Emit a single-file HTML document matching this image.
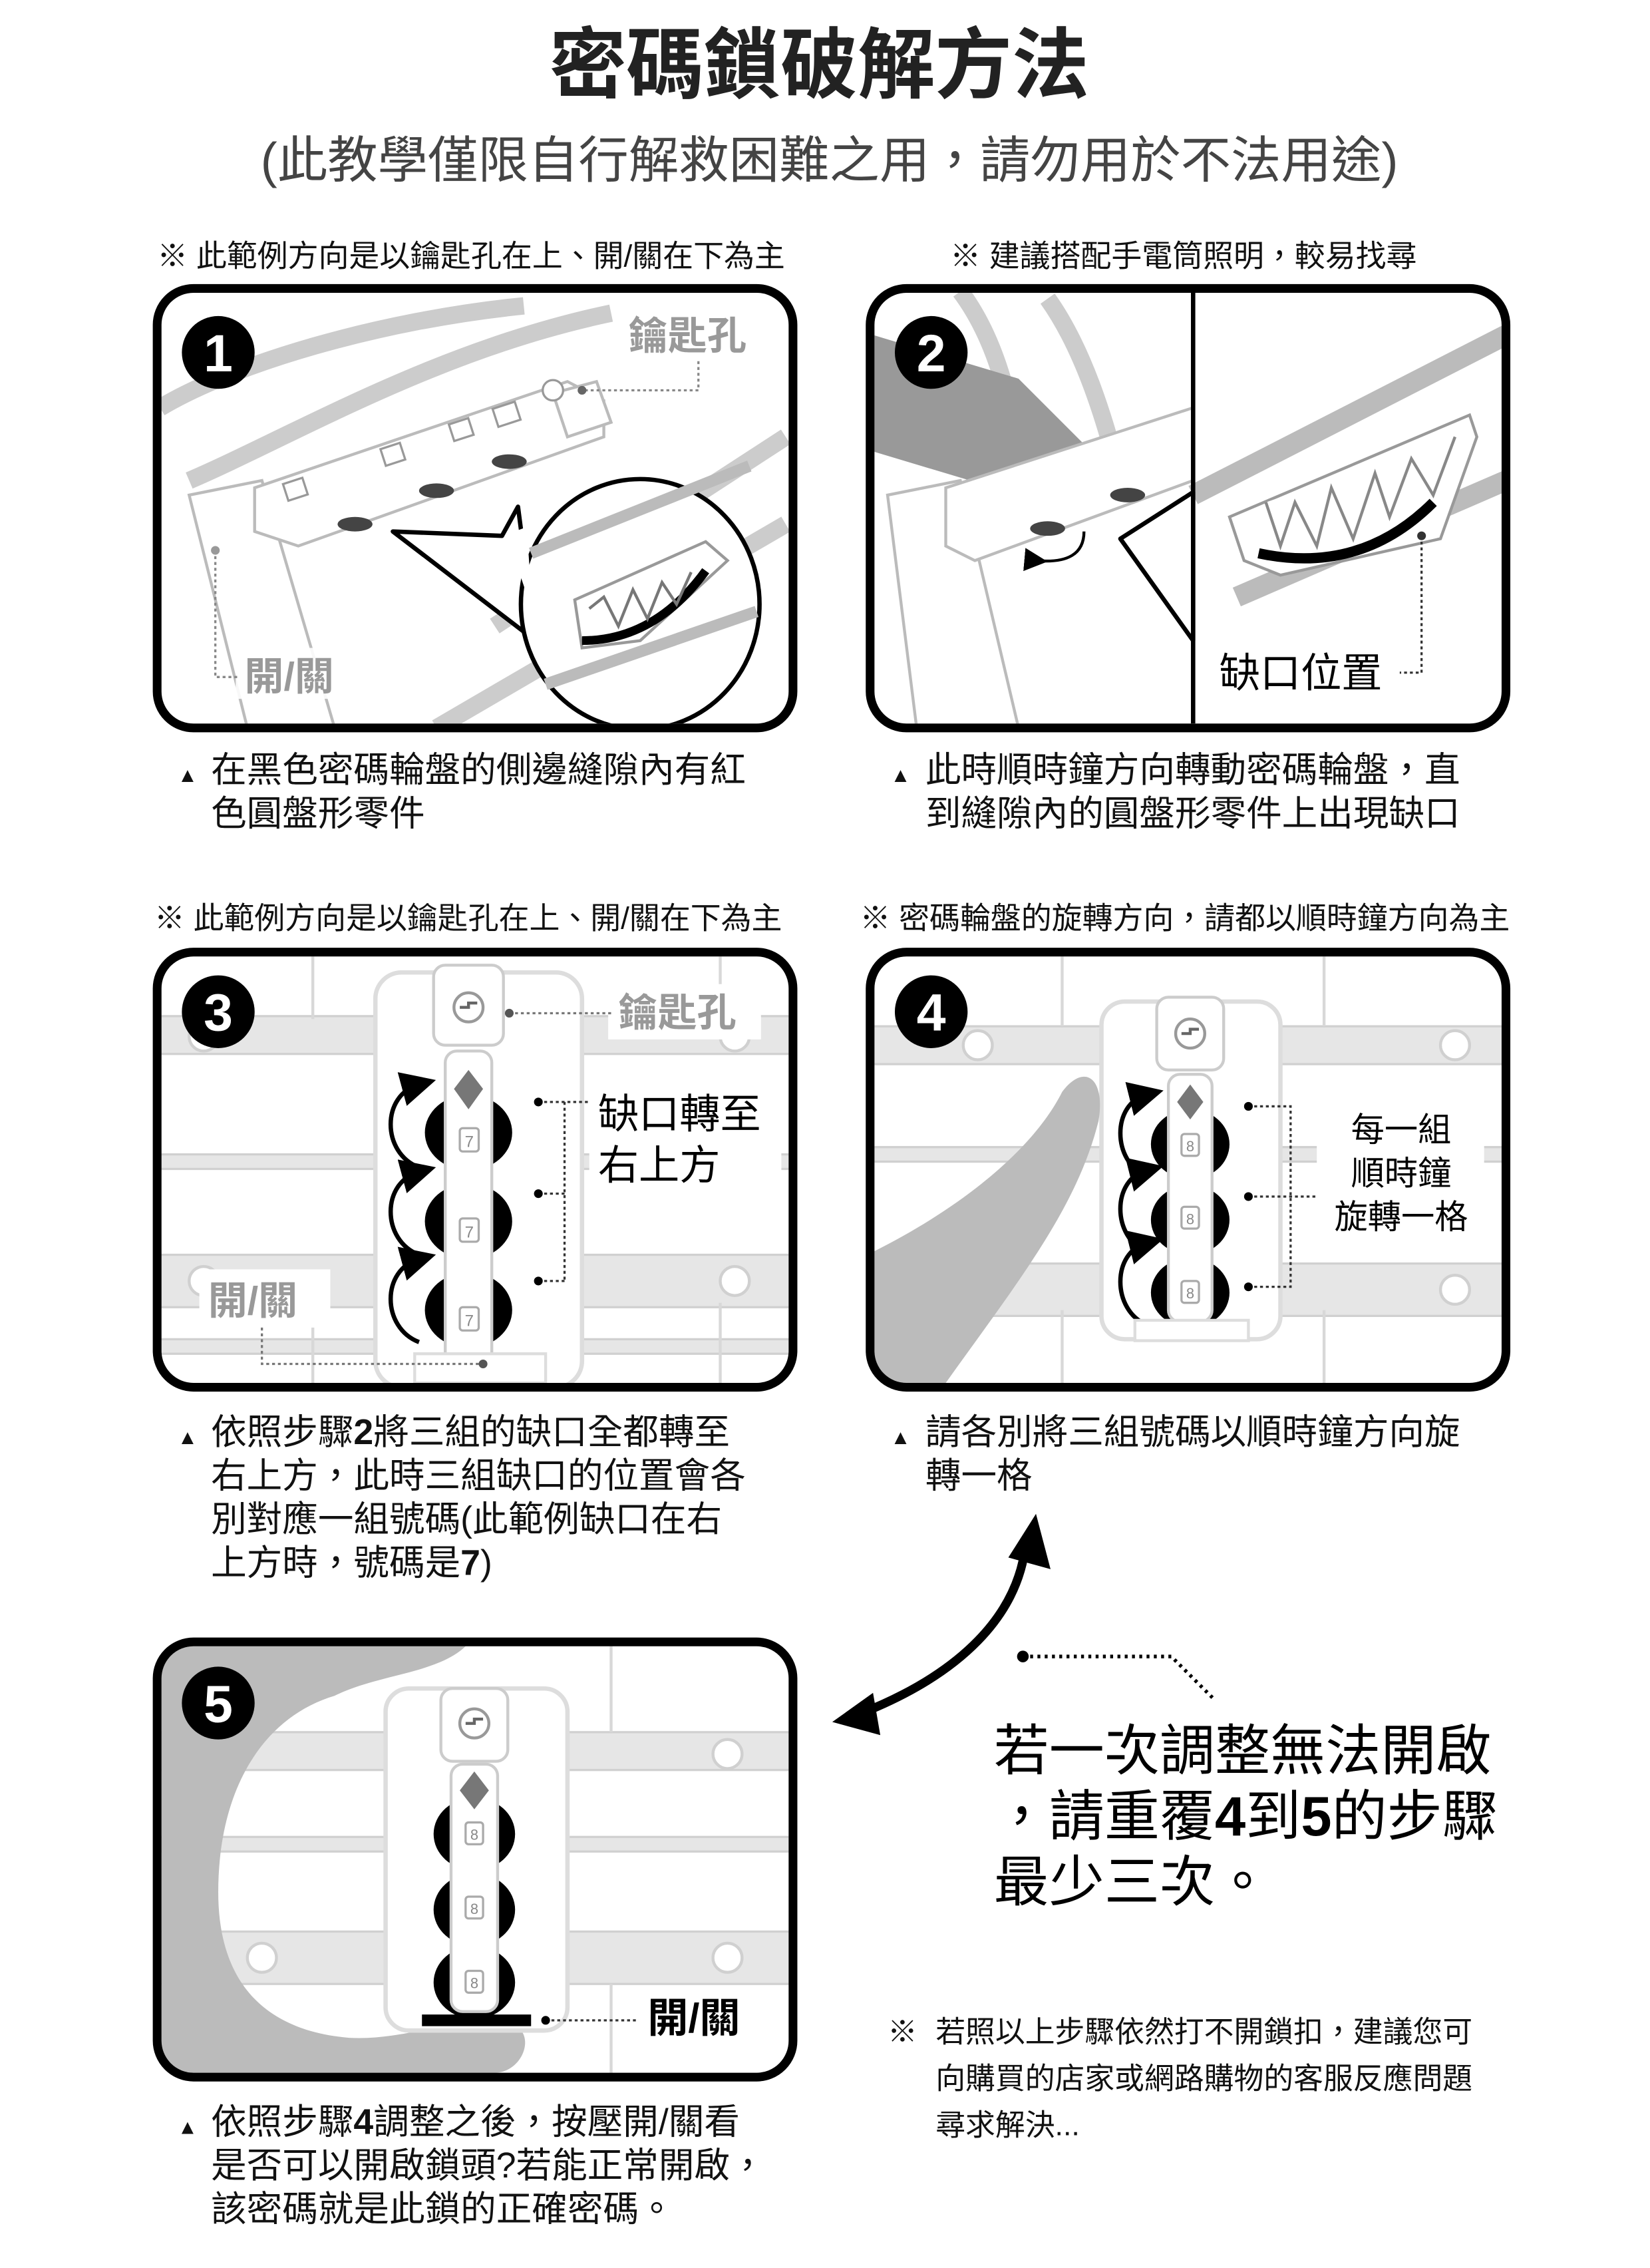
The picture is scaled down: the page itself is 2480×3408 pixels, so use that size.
<!DOCTYPE html>
<html><head><meta charset="utf-8">
<style>
html,body{margin:0;padding:0;background:#fff;}
svg{display:block;}
text{font-family:"Liberation Sans","Noto Sans CJK TC",sans-serif;}
</style></head>
<body>
<svg width="2480" height="3408" viewBox="0 0 1134 1558" xmlns="http://www.w3.org/2000/svg">
<defs>
  <clipPath id="c1"><rect x="111" y="201" width="431" height="296" rx="22"/></clipPath>
  <clipPath id="c2"><rect x="601" y="201" width="431" height="296" rx="22"/></clipPath>
  <clipPath id="c3"><rect x="111" y="657" width="431" height="293" rx="22"/></clipPath>
  <clipPath id="c4"><rect x="601" y="657" width="431" height="293" rx="22"/></clipPath>
  <clipPath id="c5"><rect x="111" y="1131" width="431" height="293" rx="22"/></clipPath>
  <marker id="ah" markerWidth="8" markerHeight="8" refX="4" refY="4" orient="auto"><path d="M0,0 L8,4 L0,8 Z" fill="#000"/></marker>
</defs>

<text x="563" y="63" font-size="53" font-weight="bold" text-anchor="middle" fill="#222">密碼鎖破解方法</text>
<text x="570" y="122" font-size="34.5" text-anchor="middle" fill="#444">(此教學僅限自行解救困難之用，請勿用於不法用途)</text>

<text x="108" y="183" font-size="21" fill="#111">※  此範例方向是以鑰匙孔在上、開/關在下為主</text>
<text x="653" y="183" font-size="21" fill="#111">※  建議搭配手電筒照明，較易找尋</text>

<!-- Panel 1 -->
<g clip-path="url(#c1)">
  <g stroke="#ccc" stroke-width="12" fill="none">
    <path d="M110,280 C160,250 260,220 360,210"/>
    <path d="M130,330 C200,300 300,240 420,215"/>
    <path d="M300,500 L540,360"/>
    <path d="M340,430 L540,300"/>
  </g>
  <g stroke="#bbb" stroke-width="2" fill="#fff">
    <path d="M130,340 L180,330 L230,500 L170,500 Z"/>
    <path d="M175,335 L390,262 L415,275 L415,300 L205,375 L175,365 Z"/>
    <path d="M380,270 L410,262 L420,290 L390,300 Z"/>
  </g>
  <g stroke="#999" stroke-width="1.5" fill="#fff">
    <rect x="196" y="330" width="14" height="12" transform="rotate(-18 203 336)"/>
    <rect x="263" y="306" width="14" height="12" transform="rotate(-18 270 312)"/>
    <rect x="310" y="289" width="14" height="12" transform="rotate(-18 317 295)"/>
    <rect x="340" y="278" width="16" height="13" transform="rotate(-18 348 284)"/>
  </g>
  <g fill="#444"><ellipse cx="244" cy="360" rx="12" ry="5"/><ellipse cx="300" cy="337" rx="12" ry="5"/><ellipse cx="350" cy="317" rx="12" ry="5"/></g>
  <circle cx="380" cy="268" r="7" fill="#fff" stroke="#999" stroke-width="1.5"/>
  <path d="M270,365 L345,368 L356,348 L368,440 Z" fill="#fff" stroke="#000" stroke-width="3" stroke-linejoin="round"/>
  <ellipse cx="440" cy="415" rx="82" ry="86" fill="#fff" stroke="#000" stroke-width="3"/>
  <path d="M348,367 L362,362 L366,420 Z" fill="#fff"/>
  <g stroke="#bbb" stroke-width="8" fill="none"><path d="M365,380 L515,320"/><path d="M375,470 L520,420"/></g>
  <path d="M395,412 L485,372 L500,385 L440,440 L400,445 Z" fill="#fff" stroke="#999" stroke-width="2"/>
  <path d="M400,440 Q450,440 485,392" stroke="#000" stroke-width="6" fill="none"/>
  <path d="M405,418 L415,410 L425,430 L435,405 L445,425 L455,400 L465,415 L475,393" stroke="#777" stroke-width="2" fill="none"/>
  <circle cx="150" cy="242" r="25" fill="#000"/>
  <text x="150" y="255" font-size="36" font-weight="bold" text-anchor="middle" fill="#fff">1</text>
  <rect x="425" y="210" width="100" height="35" fill="#fff"/>
  <text x="432" y="240" font-size="27" font-weight="bold" fill="#999">鑰匙孔</text>
  <path d="M480,248 L480,268 L400,268" stroke="#888" stroke-width="1.5" stroke-dasharray="2,2" fill="none"/>
  <circle cx="400" cy="268" r="3" fill="#666"/>
  <rect x="162" y="445" width="80" height="35" fill="#fff" opacity="0.9"/>
  <text x="168" y="474" font-size="27" font-weight="bold" fill="#999">開/關</text>
  <path d="M148,378 L148,465 L165,465" stroke="#888" stroke-width="1.5" stroke-dasharray="2,2" fill="none"/>
  <circle cx="148" cy="378" r="3" fill="#999"/>
</g>
<rect x="108" y="198" width="437" height="302" rx="25" fill="none" stroke="#000" stroke-width="6"/>

<!-- Panel 2 -->
<g clip-path="url(#c2)">
  <g stroke="#ccc" stroke-width="12" fill="none">
    <path d="M660,200 C690,240 700,300 700,330"/>
    <path d="M720,205 C745,240 760,290 770,330"/>
  </g>
  <path d="M600,230 L700,260 L760,320 L700,340 L600,310 Z" fill="#999"/>
  <g stroke="#bbb" stroke-width="2" fill="#fff">
    <path d="M610,340 L660,330 L700,500 L630,500 Z"/>
    <path d="M650,335 L820,280 L820,330 L670,385 L650,375 Z"/>
  </g>
  <g fill="#444"><ellipse cx="720" cy="363" rx="12" ry="5"/><ellipse cx="775" cy="340" rx="12" ry="5"/></g>
  <path d="M712,385 Q745,388 745,365" stroke="#000" stroke-width="2" fill="none" marker-start="url(#ah)"/>
  <rect x="820" y="201" width="215" height="296" fill="#fff"/>
  <g stroke="#bbb" stroke-width="14" fill="none"><path d="M820,340 L1035,230"/><path d="M850,410 L1035,330"/></g>
  <path d="M770,370 L820,338 L820,440 Z" fill="#fff" stroke="#000" stroke-width="3" stroke-linejoin="round"/>
  <path d="M845,355 L1010,285 L1015,300 L990,370 L880,395 L855,385 Z" fill="#fff" stroke="#999" stroke-width="2"/>
  <path d="M865,380 Q935,395 985,345" stroke="#000" stroke-width="7" fill="none"/>
  <path d="M870,345 L880,375 L890,345 L905,375 L915,335 L930,370 L945,325 L955,355 L970,315 L985,340 L1000,300" stroke="#888" stroke-width="2" fill="#fff"/>
  <line x1="820" y1="201" x2="820" y2="497" stroke="#000" stroke-width="3"/>
  <circle cx="640" cy="242" r="25" fill="#000"/>
  <text x="640" y="255" font-size="36" font-weight="bold" text-anchor="middle" fill="#fff">2</text>
  <text x="838" y="472" font-size="28" fill="#000">缺口位置</text>
  <path d="M977,368 L977,462 L962,462" stroke="#333" stroke-width="1.5" stroke-dasharray="2,2" fill="none"/>
  <circle cx="977" cy="368" r="3" fill="#333"/>
</g>
<rect x="598" y="198" width="437" height="302" rx="25" fill="none" stroke="#000" stroke-width="6"/>

<g font-size="24.5" fill="#111">
  <text x="122" y="537" font-size="14">▲</text>
  <text x="145" y="537">在黑色密碼輪盤的側邊縫隙內有紅</text>
  <text x="145" y="567">色圓盤形零件</text>
  <text x="612" y="537" font-size="14">▲</text>
  <text x="636" y="537">此時順時鐘方向轉動密碼輪盤，直</text>
  <text x="636" y="567">到縫隙內的圓盤形零件上出現缺口</text>
</g>

<text x="106" y="638" font-size="21" fill="#111">※  此範例方向是以鑰匙孔在上、開/關在下為主</text>
<text x="591" y="638" font-size="21" fill="#111">※  密碼輪盤的旋轉方向，請都以順時鐘方向為主</text>

<!-- Panel 3 -->
<g clip-path="url(#c3)">
  <g fill="#e6e6e6" stroke="#d0d0d0" stroke-width="1.5">
    <rect x="100" y="698" width="460" height="26"/>
    <rect x="100" y="793" width="460" height="10"/>
    <rect x="100" y="862" width="460" height="36"/>
    <rect x="100" y="920" width="460" height="10"/>
  </g>
  <g stroke="#d8d8d8" stroke-width="2" fill="none">
    <line x1="215" y1="657" x2="215" y2="700"/><line x1="495" y1="657" x2="495" y2="700"/>
    <line x1="215" y1="895" x2="215" y2="950"/><line x1="495" y1="895" x2="495" y2="950"/>
  </g>
  <g fill="#fff" stroke="#d0d0d0" stroke-width="2">
    <circle cx="140" cy="712" r="10"/><circle cx="505" cy="712" r="10"/><circle cx="140" cy="880" r="10"/><circle cx="505" cy="880" r="10"/>
  </g>
  <rect x="258" y="668" width="142" height="285" rx="18" fill="#fff" stroke="#ddd" stroke-width="3"/>
  <rect x="298" y="663" width="48" height="55" rx="8" fill="#fff" stroke="#ccc" stroke-width="2"/>
  <circle cx="322" cy="692" r="10" fill="#fff" stroke="#999" stroke-width="2"/>
  <path d="M316,692 h6 v-3 h6" stroke="#666" stroke-width="2" fill="none"/>
  <g fill="#000">
    <ellipse cx="322" cy="778" rx="30" ry="26"/>
    <ellipse cx="322" cy="839" rx="30" ry="26"/>
    <ellipse cx="322" cy="900" rx="30" ry="26"/>
  </g>
  <rect x="306" y="722" width="32" height="215" rx="8" fill="#fff" stroke="#ccc" stroke-width="2"/>
  <path d="M322,735 L332,748 L322,762 L312,748 Z" fill="#777"/>
  <g stroke="#aaa" fill="#fff" stroke-width="1.5"><rect x="316" y="775" width="13" height="16" rx="2"/><rect x="316" y="837" width="13" height="16" rx="2"/><rect x="316" y="898" width="13" height="16" rx="2"/></g>
  <g font-size="11" fill="#888" text-anchor="middle"><text x="322.5" y="788">7</text><text x="322.5" y="850">7</text><text x="322.5" y="911">7</text></g>
  <g stroke="#000" stroke-width="3" fill="none">
    <path d="M288,802 C262,792 262,752 288,745" marker-end="url(#ah)"/>
    <path d="M288,862 C262,852 262,812 288,805" marker-end="url(#ah)"/>
    <path d="M288,922 C262,912 262,872 288,865" marker-end="url(#ah)"/>
  </g>
  <rect x="285" y="930" width="90" height="20" fill="#fff" stroke="#ddd" stroke-width="2"/>
  <rect x="418" y="676" width="105" height="38" fill="#fff"/>
  <text x="425" y="705" font-size="27" font-weight="bold" fill="#999">鑰匙孔</text>
  <path d="M350,696 L420,696" stroke="#777" stroke-width="1.5" stroke-dasharray="2,2"/><circle cx="350" cy="696" r="3" fill="#555"/>
  <rect x="405" y="745" width="132" height="75" fill="#fff"/>
  <text x="411" y="775" font-size="28" fill="#000">缺口轉至</text>
  <text x="411" y="810" font-size="28" fill="#000">右上方</text>
  <path d="M370,757 L404,757 M388,757 L388,880 M370,820 L388,820 M370,880 L388,880" stroke="#333" stroke-width="1.5" stroke-dasharray="2,2" fill="none"/>
  <circle cx="370" cy="757" r="3"/><circle cx="370" cy="820" r="3"/><circle cx="370" cy="880" r="3"/>
  <rect x="137" y="872" width="90" height="40" fill="#fff"/>
  <text x="143" y="903" font-size="27" font-weight="bold" fill="#999">開/關</text>
  <path d="M180,912 L180,937 L332,937" stroke="#777" stroke-width="1.5" stroke-dasharray="2,2" fill="none"/><circle cx="332" cy="937" r="3" fill="#555"/>
  <circle cx="150" cy="695" r="25" fill="#000"/>
  <text x="150" y="708" font-size="36" font-weight="bold" text-anchor="middle" fill="#fff">3</text>
</g>
<rect x="108" y="654" width="437" height="299" rx="25" fill="none" stroke="#000" stroke-width="6"/>

<!-- Panel 4 -->
<g clip-path="url(#c4)">
  <g fill="#e6e6e6" stroke="#d0d0d0" stroke-width="1.5">
    <rect x="590" y="705" width="460" height="26"/>
    <rect x="590" y="788" width="460" height="10"/>
    <rect x="590" y="868" width="460" height="36"/>
  </g>
  <g fill="#fff" stroke="#d0d0d0" stroke-width="2">
    <circle cx="672" cy="718" r="10"/><circle cx="1000" cy="718" r="10"/><circle cx="1000" cy="886" r="10"/>
  </g>
  <g stroke="#d8d8d8" stroke-width="2" fill="none"><line x1="730" y1="657" x2="730" y2="705"/><line x1="910" y1="657" x2="910" y2="705"/><line x1="730" y1="900" x2="730" y2="950"/><line x1="910" y1="900" x2="910" y2="950"/></g>
  <rect x="757" y="688" width="123" height="232" rx="16" fill="#fff" stroke="#ddd" stroke-width="3"/>
  <rect x="795" y="685" width="46" height="50" rx="8" fill="#fff" stroke="#ccc" stroke-width="2"/>
  <circle cx="818" cy="710" r="10" fill="#fff" stroke="#999" stroke-width="2"/>
  <path d="M812,710 h6 v-3 h6" stroke="#666" stroke-width="2" fill="none"/>
  <path d="M600,950 L600,860 C660,830 710,790 730,750 C745,730 760,740 755,770 C740,830 700,880 650,950 Z" fill="#bbb"/>
  <g fill="#000">
    <ellipse cx="818" cy="786" rx="27" ry="24"/>
    <ellipse cx="818" cy="838" rx="27" ry="24"/>
    <ellipse cx="818" cy="888" rx="27" ry="24"/>
  </g>
  <rect x="803" y="738" width="30" height="170" rx="8" fill="#fff" stroke="#ccc" stroke-width="2"/>
  <path d="M818,745 L827,757 L818,769 L809,757 Z" fill="#777"/>
  <g stroke="#aaa" fill="#fff" stroke-width="1.5"><rect x="812" y="779" width="12" height="15" rx="2"/><rect x="812" y="829" width="12" height="15" rx="2"/><rect x="812" y="880" width="12" height="15" rx="2"/></g>
  <g font-size="10" fill="#888" text-anchor="middle"><text x="818" y="791">8</text><text x="818" y="841">8</text><text x="818" y="892">8</text></g>
  <g stroke="#000" stroke-width="3" fill="none">
    <path d="M788,808 C764,798 764,758 788,752" marker-end="url(#ah)"/>
    <path d="M788,860 C764,850 764,810 788,804" marker-end="url(#ah)"/>
    <path d="M788,910 C764,900 764,860 788,854" marker-end="url(#ah)"/>
  </g>
  <rect x="780" y="907" width="78" height="14" fill="#fff" stroke="#ddd" stroke-width="2"/>
  <rect x="905" y="755" width="115" height="100" fill="#fff"/>
  <g font-size="23" fill="#000" text-anchor="middle"><text x="963" y="784">每一組</text><text x="963" y="814">順時鐘</text><text x="963" y="844">旋轉一格</text></g>
  <path d="M858,760 L887,760 L887,884 L858,884 M858,822 L905,822" stroke="#333" stroke-width="1.5" stroke-dasharray="2,2" fill="none"/>
  <circle cx="858" cy="760" r="3"/><circle cx="858" cy="822" r="3"/><circle cx="858" cy="884" r="3"/>
  <circle cx="640" cy="695" r="25" fill="#000"/>
  <text x="640" y="708" font-size="36" font-weight="bold" text-anchor="middle" fill="#fff">4</text>
</g>
<rect x="598" y="654" width="437" height="299" rx="25" fill="none" stroke="#000" stroke-width="6"/>

<g font-size="24.5" fill="#111">
  <text x="122" y="992" font-size="14">▲</text>
  <text x="145" y="992">依照步驟<tspan font-weight="bold">2</tspan>將三組的缺口全都轉至</text>
  <text x="145" y="1022">右上方，此時三組缺口的位置會各</text>
  <text x="145" y="1052">別對應一組號碼(此範例缺口在右</text>
  <text x="145" y="1082">上方時，號碼是<tspan font-weight="bold">7</tspan>)</text>
  <text x="612" y="992" font-size="14">▲</text>
  <text x="636" y="992">請各別將三組號碼以順時鐘方向旋</text>
  <text x="636" y="1022">轉一格</text>
</g>

<path d="M705,1060 C700,1110 660,1150 592,1177" stroke="#000" stroke-width="6" fill="none"/>
<path d="M712,1040 L722,1078 L693,1070 Z" fill="#000"/>
<path d="M572,1183 L600,1163 L605,1192 Z" fill="#000"/>
<path d="M703,1138 L805,1138 L835,1168" stroke="#000" stroke-width="2.5" stroke-dasharray="2,3" fill="none"/>
<circle cx="703" cy="1138" r="4" fill="#000"/>

<g font-size="38" fill="#000">
  <text x="683" y="1216">若一次調整無法開啟</text>
  <text x="683" y="1261">，請重覆<tspan font-weight="bold">4</tspan>到<tspan font-weight="bold">5</tspan>的步驟</text>
  <text x="683" y="1306">最少三次。</text>
</g>

<!-- Panel 5 -->
<g clip-path="url(#c5)">
  <g fill="#e6e6e6" stroke="#d0d0d0" stroke-width="1.5">
    <rect x="100" y="1190" width="460" height="26"/>
    <rect x="100" y="1262" width="460" height="10"/>
    <rect x="100" y="1327" width="460" height="36"/>
  </g>
  <g fill="#fff" stroke="#d0d0d0" stroke-width="2"><circle cx="180" cy="1345" r="10"/><circle cx="500" cy="1345" r="10"/><circle cx="500" cy="1205" r="10"/></g>
  <g stroke="#d8d8d8" stroke-width="2" fill="none"><line x1="420" y1="1131" x2="420" y2="1190"/><line x1="420" y1="1363" x2="420" y2="1424"/></g>
  <path d="M111,1131 L320,1131 C300,1150 260,1150 230,1165 C180,1180 150,1230 150,1300 C150,1360 180,1395 240,1400 C280,1402 310,1385 350,1390 C370,1395 360,1424 340,1424 L111,1424 Z" fill="#bbb"/>
  <rect x="265" y="1160" width="125" height="235" rx="16" fill="#fff" stroke="#ddd" stroke-width="3"/>
  <rect x="303" y="1160" width="46" height="50" rx="8" fill="#fff" stroke="#ccc" stroke-width="2"/>
  <circle cx="326" cy="1184" r="10" fill="#fff" stroke="#999" stroke-width="2"/>
  <path d="M320,1184 h6 v-3 h6" stroke="#666" stroke-width="2" fill="none"/>
  <g fill="#000">
    <ellipse cx="326" cy="1260" rx="28" ry="25"/>
    <ellipse cx="326" cy="1312" rx="28" ry="25"/>
    <ellipse cx="326" cy="1362" rx="28" ry="25"/>
  </g>
  <rect x="310" y="1212" width="32" height="170" rx="8" fill="#fff" stroke="#ccc" stroke-width="2"/>
  <path d="M326,1217 L336,1230 L326,1243 L316,1230 Z" fill="#777"/>
  <g stroke="#aaa" fill="#fff" stroke-width="1.5"><rect x="320" y="1252" width="12" height="15" rx="2"/><rect x="320" y="1303" width="12" height="15" rx="2"/><rect x="320" y="1354" width="12" height="15" rx="2"/></g>
  <g font-size="10" fill="#888" text-anchor="middle"><text x="326" y="1264">8</text><text x="326" y="1315">8</text><text x="326" y="1366">8</text></g>
  <rect x="290" y="1384" width="75" height="8" fill="#000"/>
  <path d="M375,1388 L440,1388" stroke="#333" stroke-width="1.5" stroke-dasharray="2,2"/><circle cx="375" cy="1388" r="3"/>
  <rect x="438" y="1365" width="90" height="40" fill="#fff"/>
  <text x="445" y="1396" font-size="28" font-weight="bold" fill="#000">開/關</text>
  <circle cx="150" cy="1170" r="25" fill="#000"/>
  <text x="150" y="1183" font-size="36" font-weight="bold" text-anchor="middle" fill="#fff">5</text>
</g>
<rect x="108" y="1128" width="437" height="299" rx="25" fill="none" stroke="#000" stroke-width="6"/>

<g font-size="24.5" fill="#111">
  <text x="122" y="1466" font-size="14">▲</text>
  <text x="145" y="1466">依照步驟<tspan font-weight="bold">4</tspan>調整之後，按壓開/關看</text>
  <text x="145" y="1496">是否可以開啟鎖頭?若能正常開啟，</text>
  <text x="145" y="1526">該密碼就是此鎖的正確密碼。</text>
</g>

<g font-size="20.5" fill="#111">
  <text x="610" y="1403">※</text>
  <text x="643" y="1403">若照以上步驟依然打不開鎖扣，建議您可</text>
  <text x="643" y="1435">向購買的店家或網路購物的客服反應問題</text>
  <text x="643" y="1467">尋求解決...</text>
</g>
</svg>
</body></html>
